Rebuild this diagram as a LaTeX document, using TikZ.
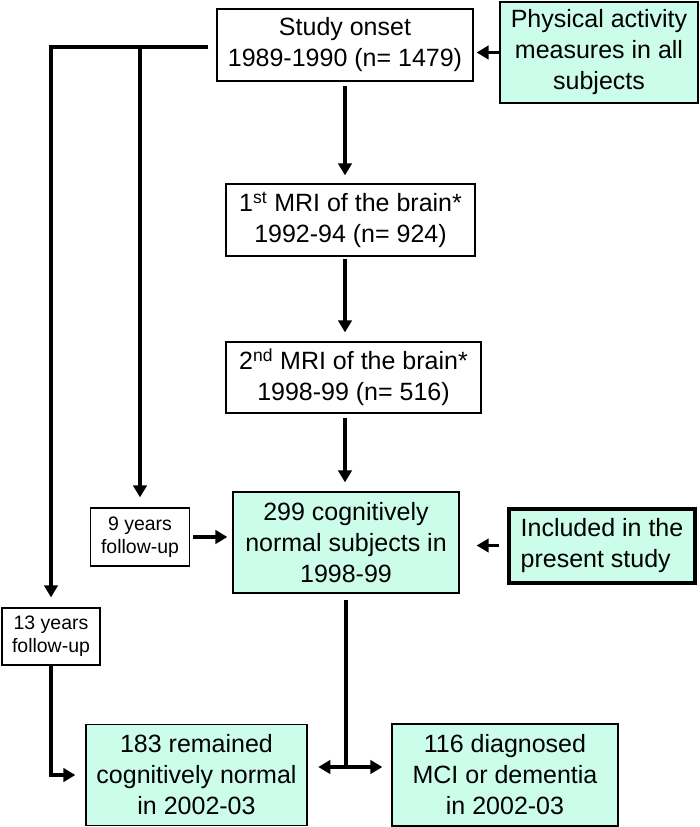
\documentclass[tikz,border=0pt]{standalone}
\usepackage{fontspec}
\setmainfont{Liberation Sans}
\usetikzlibrary{arrows.meta}
\definecolor{mint}{RGB}{204,253,235}
\tikzset{every picture/.style={line width=0.75pt}}
\tikzset{
	box/.style={draw, line width=0.9pt, inner sep=0pt, align=center, font=\fontsize{18.75}{23.25}\selectfont},
	mintbox/.style={box, fill=mint},
	smallbox/.style={box, font=\fontsize{14.6}{17.4}\selectfont},
	flow/.style={line width=2.6pt, -{Triangle[length=9pt,width=10pt]}},
	twoway/.style={line width=2.6pt, {Triangle[length=9pt,width=10pt]}-{Triangle[length=9pt,width=10pt]}},
	plain/.style={line width=2.6pt}}

\begin{document}
\begin{tikzpicture}[x=0.75pt,y=0.75pt,yscale=-1,xscale=1]
	\useasboundingbox (0,0) rectangle (699,827);

	%Shape: Rectangle [id:onset]
	\node[box, minimum width=192pt, minimum height=54pt] (onset) at (345,45) {Study onset\\1989-1990 (n= 1479)};
	%Shape: Rectangle [id:phys]
	\node[mintbox, minimum width=148.5pt, minimum height=75.75pt] (phys) at (599,52.5) {Physical activity\\measures in all\\subjects};
	%Shape: Rectangle [id:mri1]
	\node[box, minimum width=186.75pt, minimum height=54pt] (mri1) at (350.5,220) {1\textsuperscript{st} MRI of the brain*\\1992-94 (n= 924)};
	%Shape: Rectangle [id:mri2]
	\node[box, minimum width=191.25pt, minimum height=53.25pt] (mri2) at (353.5,377.5) {2\textsuperscript{nd} MRI of the brain*\\1998-99 (n= 516)};
	%Shape: Rectangle [id:cogn]
	\node[mintbox, minimum width=169.5pt, minimum height=75.75pt] (cogn) at (346,542.5) {299 cognitively\\normal subjects in\\1998-99};
	%Shape: Rectangle [id:nine]
	\node[smallbox, minimum width=74.25pt, minimum height=43.5pt] (nine) at (140,537) {9 years\\follow-up};
	%Shape: Rectangle [id:incl]
	\node[mintbox, line width=3pt, align=left, minimum width=140pt, minimum height=55.5pt] (incl) at (602,545.5) {Included in the\\present study};
	%Shape: Rectangle [id:thirteen]
	\node[smallbox, minimum width=73.5pt, minimum height=42.75pt] (thirteen) at (51,636.5) {13 years\\follow-up};
	%Shape: Rectangle [id:normal]
	\node[mintbox, minimum width=165.75pt, minimum height=75.75pt] (normal) at (196.5,775) {183 remained\\cognitively normal\\in 2002-03};
	%Shape: Rectangle [id:mci]
	\node[mintbox, minimum width=169.5pt, minimum height=76.5pt] (mci) at (505,775) {116 diagnosed\\MCI or dementia\\in 2002-03};

	%Straight Lines [id:main]
	\draw[flow, shorten <=3pt, shorten >=6pt] (onset.south) -- (onset.south |- mri1.north);
	\draw[flow, shorten <=1.5pt, shorten >=6.75pt] (mri1.south -| onset.south) -- (onset.south |- mri2.north);
	\draw[flow, shorten <=3pt, shorten >=6.75pt] (mri2.south -| onset.south) -- (onset.south |- cogn.north);
	%Straight Lines [id:side]
	\draw[flow, shorten >=2.25pt] (phys.west) -- (phys.west -| onset.east);
	\draw[flow, shorten <=2.25pt, shorten >=3.75pt] (nine.east) -- (nine.east -| cogn.west);
	\draw[flow, shorten <=6pt, shorten >=12.75pt] (incl.west) -- (incl.west -| cogn.east);
	%Straight Lines [id:follow]
	\draw[flow, shorten <=6pt, shorten >=7.5pt] ([yshift=1.5pt]onset.west) -| (thirteen.north);
	\draw[flow, shorten >=7.5pt] ([yshift=1.5pt]onset.west -| nine.north) -- (nine.north);
	\draw[flow, shorten >=7.5pt] (thirteen.south) |- (normal.west);
	%Straight Lines [id:split]
	\coordinate (split) at (346,767);
	\draw[plain, shorten <=5pt] (cogn.south) -- (split);
	\draw[twoway, shorten <=8pt, shorten >=6.75pt] (normal.east |- split) -- (mci.west |- split);

\end{tikzpicture}
\end{document}
